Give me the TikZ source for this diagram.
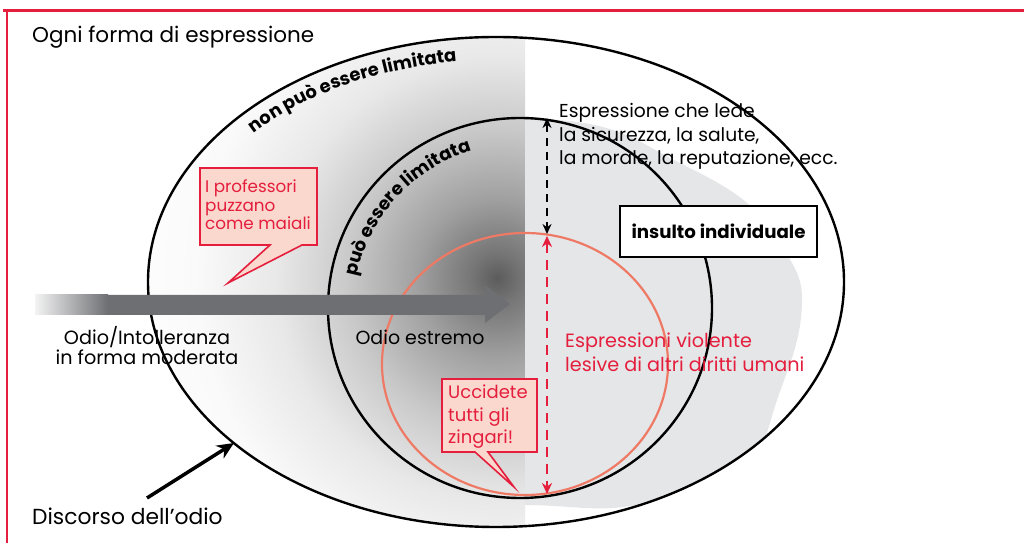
\documentclass[tikz,border=0pt]{standalone}
\usepackage{fontspec}
\setmainfont{Poppins}
\usetikzlibrary{arrows.meta,decorations.text}
\definecolor{frame}{RGB}{228,30,60}
\definecolor{bubfill}{RGB}{250,216,206}
\definecolor{salmon}{RGB}{238,122,102}
\definecolor{lgray}{RGB}{229,230,232}
\definecolor{arrgray}{RGB}{110,111,115}
\pgfdeclareradialshading{odio}{\pgfpoint{0bp}{0bp}}{color(0bp)=(black!64); color(25bp)=(black!54); color(80bp)=(black!37); color(150bp)=(black!21); color(220bp)=(black!9); color(300bp)=(black!2); color(400bp)=(white)}
\tikzset{
  lbl/.style={inner sep=0pt, anchor=base west},
  lblc/.style={inner sep=0pt, anchor=base},
  bub/.style={draw=frame, fill=bubfill, line width=1.6pt, line join=miter},
  bubtxt/.style={inner sep=0pt, anchor=base west, text=frame, font=\fontsize{16.8}{18}\selectfont},
  ell/.style={draw=black, line width=2.4pt},
  curved/.style={decorate, decoration={text along path, text align=left, text={#1}}},
}
\begin{document}
\begin{tikzpicture}[x=1pt,y=1pt,font=\fontsize{18.7}{20}\selectfont]
\useasboundingbox (0,0) rectangle (1024,543);
\fill[white] (0,0) rectangle (1024,543);

% shaded interior
\begin{scope}
  \clip (496,261) ellipse [x radius=348, y radius=245];
  \begin{scope}
    \clip (0,0) rectangle (525,543);
    \node[inner sep=0pt, outer sep=0pt] (spot) at (497,265) {\pgfuseshading{odio}};
  \end{scope}
  \fill[lgray] (525,425) to[out=-3,in=150] (650,396) to[out=-30,in=120] (780,300)
     to[out=-60,in=90] (802,245) to[out=-90,in=75] (770,120) to[out=-105,in=20] (660,45)
     to[out=-160,in=0] (525,38) -- cycle;
\end{scope}

% ellipses
\draw[ell] (496,261) ellipse [x radius=348, y radius=245];
\draw[ell] (520,235) ellipse [x radius=192, y radius=190];
\draw[draw=salmon, line width=2.2pt] (525,179) ellipse [x radius=143, y radius=131];

% big arrow
\fill[arrgray] (35,248) -- (485,248) -- (485,258) -- (510,239) -- (485,220) -- (485,228) -- (35,228) -- cycle;
\shade[left color=arrgray!8, right color=arrgray] (35,228) rectangle (108,248);

% curved labels
\path[curved={|\fontsize{18}{18}\bfseries\selectfont|non può essere limitata}]
  (496,261) ++(138:326 and 222) arc[start angle=138, end angle=70, x radius=326, y radius=222];
\path[curved={|\fontsize{18}{18}\bfseries\selectfont|può essere limitata}]
  (520,235) ++(169:166 and 164) arc[start angle=169, end angle=60, x radius=166, y radius=164];

% speech bubble 1
\filldraw[bub] (200,375) -- (317,375) -- (317,298) -- (302,298) -- (228,260) -- (270,298) -- (200,298) -- cycle;
\node[bubtxt] (b1a) at (205,350) {I professori};
\node[bubtxt] (b1b) at (205,331) {puzzano};
\node[bubtxt] (b1c) at (205,313) {come maiali};

% speech bubble 2
\filldraw[bub] (442,164) -- (537,164) -- (537,91) -- (488,91) -- (514,56) -- (475,91) -- (442,91) -- cycle;
\node[bubtxt, font=\fontsize{18}{18}\selectfont] (b2a) at (448,144) {Uccidete};
\node[bubtxt, font=\fontsize{18}{18}\selectfont] (b2b) at (448,121) {tutti gli};
\node[bubtxt, font=\fontsize{18}{18}\selectfont] (b2c) at (448,99) {zingari!};

% insulto box
\node[draw=black, line width=2pt, fill=white, minimum width=197pt, minimum height=51pt, inner sep=0pt,
      font=\fontsize{18.2}{20}\bfseries\selectfont] (ins) at (718.5,311.5) {insulto individuale};

% dashed arrows
\coordinate (bt) at (547,425);
\coordinate (bm) at (547,309);
\coordinate (rt) at (547,307);
\coordinate (rb) at (547,49);
\draw[black, line width=2.2pt, dash pattern=on 8pt off 6pt, {Stealth[length=10pt,width=9pt]}-{Stealth[length=10pt,width=9pt]}] (bt) -- (bm);
\draw[frame, line width=2.6pt, dash pattern=on 10pt off 7pt, {Stealth[length=11pt,width=10pt]}-{Stealth[length=11pt,width=10pt]}] (rt) -- (rb);

% texts
\node[lbl, font=\fontsize{21.5}{22}\selectfont] (ogni) at (32,500) {Ogni forma di espressione};
\node[lbl] (e1) at (559,425) {Espressione che lede};
\node[lbl] (e2) at (559,401) {la sicurezza, la salute,};
\node[lbl] (e3) at (559,378) {la morale, la reputazione, ecc.};
\node[lbl, text=frame, font=\fontsize{19.2}{20}\selectfont] (v1) at (565,195) {Espressioni violente};
\node[lbl, text=frame, font=\fontsize{19.2}{20}\selectfont] (v2) at (565,171) {lesive di altri diritti umani};
\node[lblc, font=\fontsize{19.2}{20}\selectfont] (o1) at (147,198) {Odio/Intolleranza};
\node[lblc, font=\fontsize{19.2}{20}\selectfont] (o2) at (147,178) {in forma moderata};
\node[lblc, font=\fontsize{19}{20}\selectfont] (oe) at (420,198) {Odio estremo};
\node[lbl, font=\fontsize{21.8}{22}\selectfont] (disc) at (32,19) {Discorso dell’odio};

% arrow to hate speech
\coordinate (dtail) at (147,45);
\coordinate (dtip) at (234,100);
\draw[line width=3.5pt, -{Stealth[length=17pt,width=15pt]}] (dtail) -- (dtip);

% frame
\draw[frame, line width=3pt] (3,532.5) -- (1024,532.5);
\draw[frame, line width=2.6pt] (7,534) -- (7,0);
\end{tikzpicture}
\end{document}
